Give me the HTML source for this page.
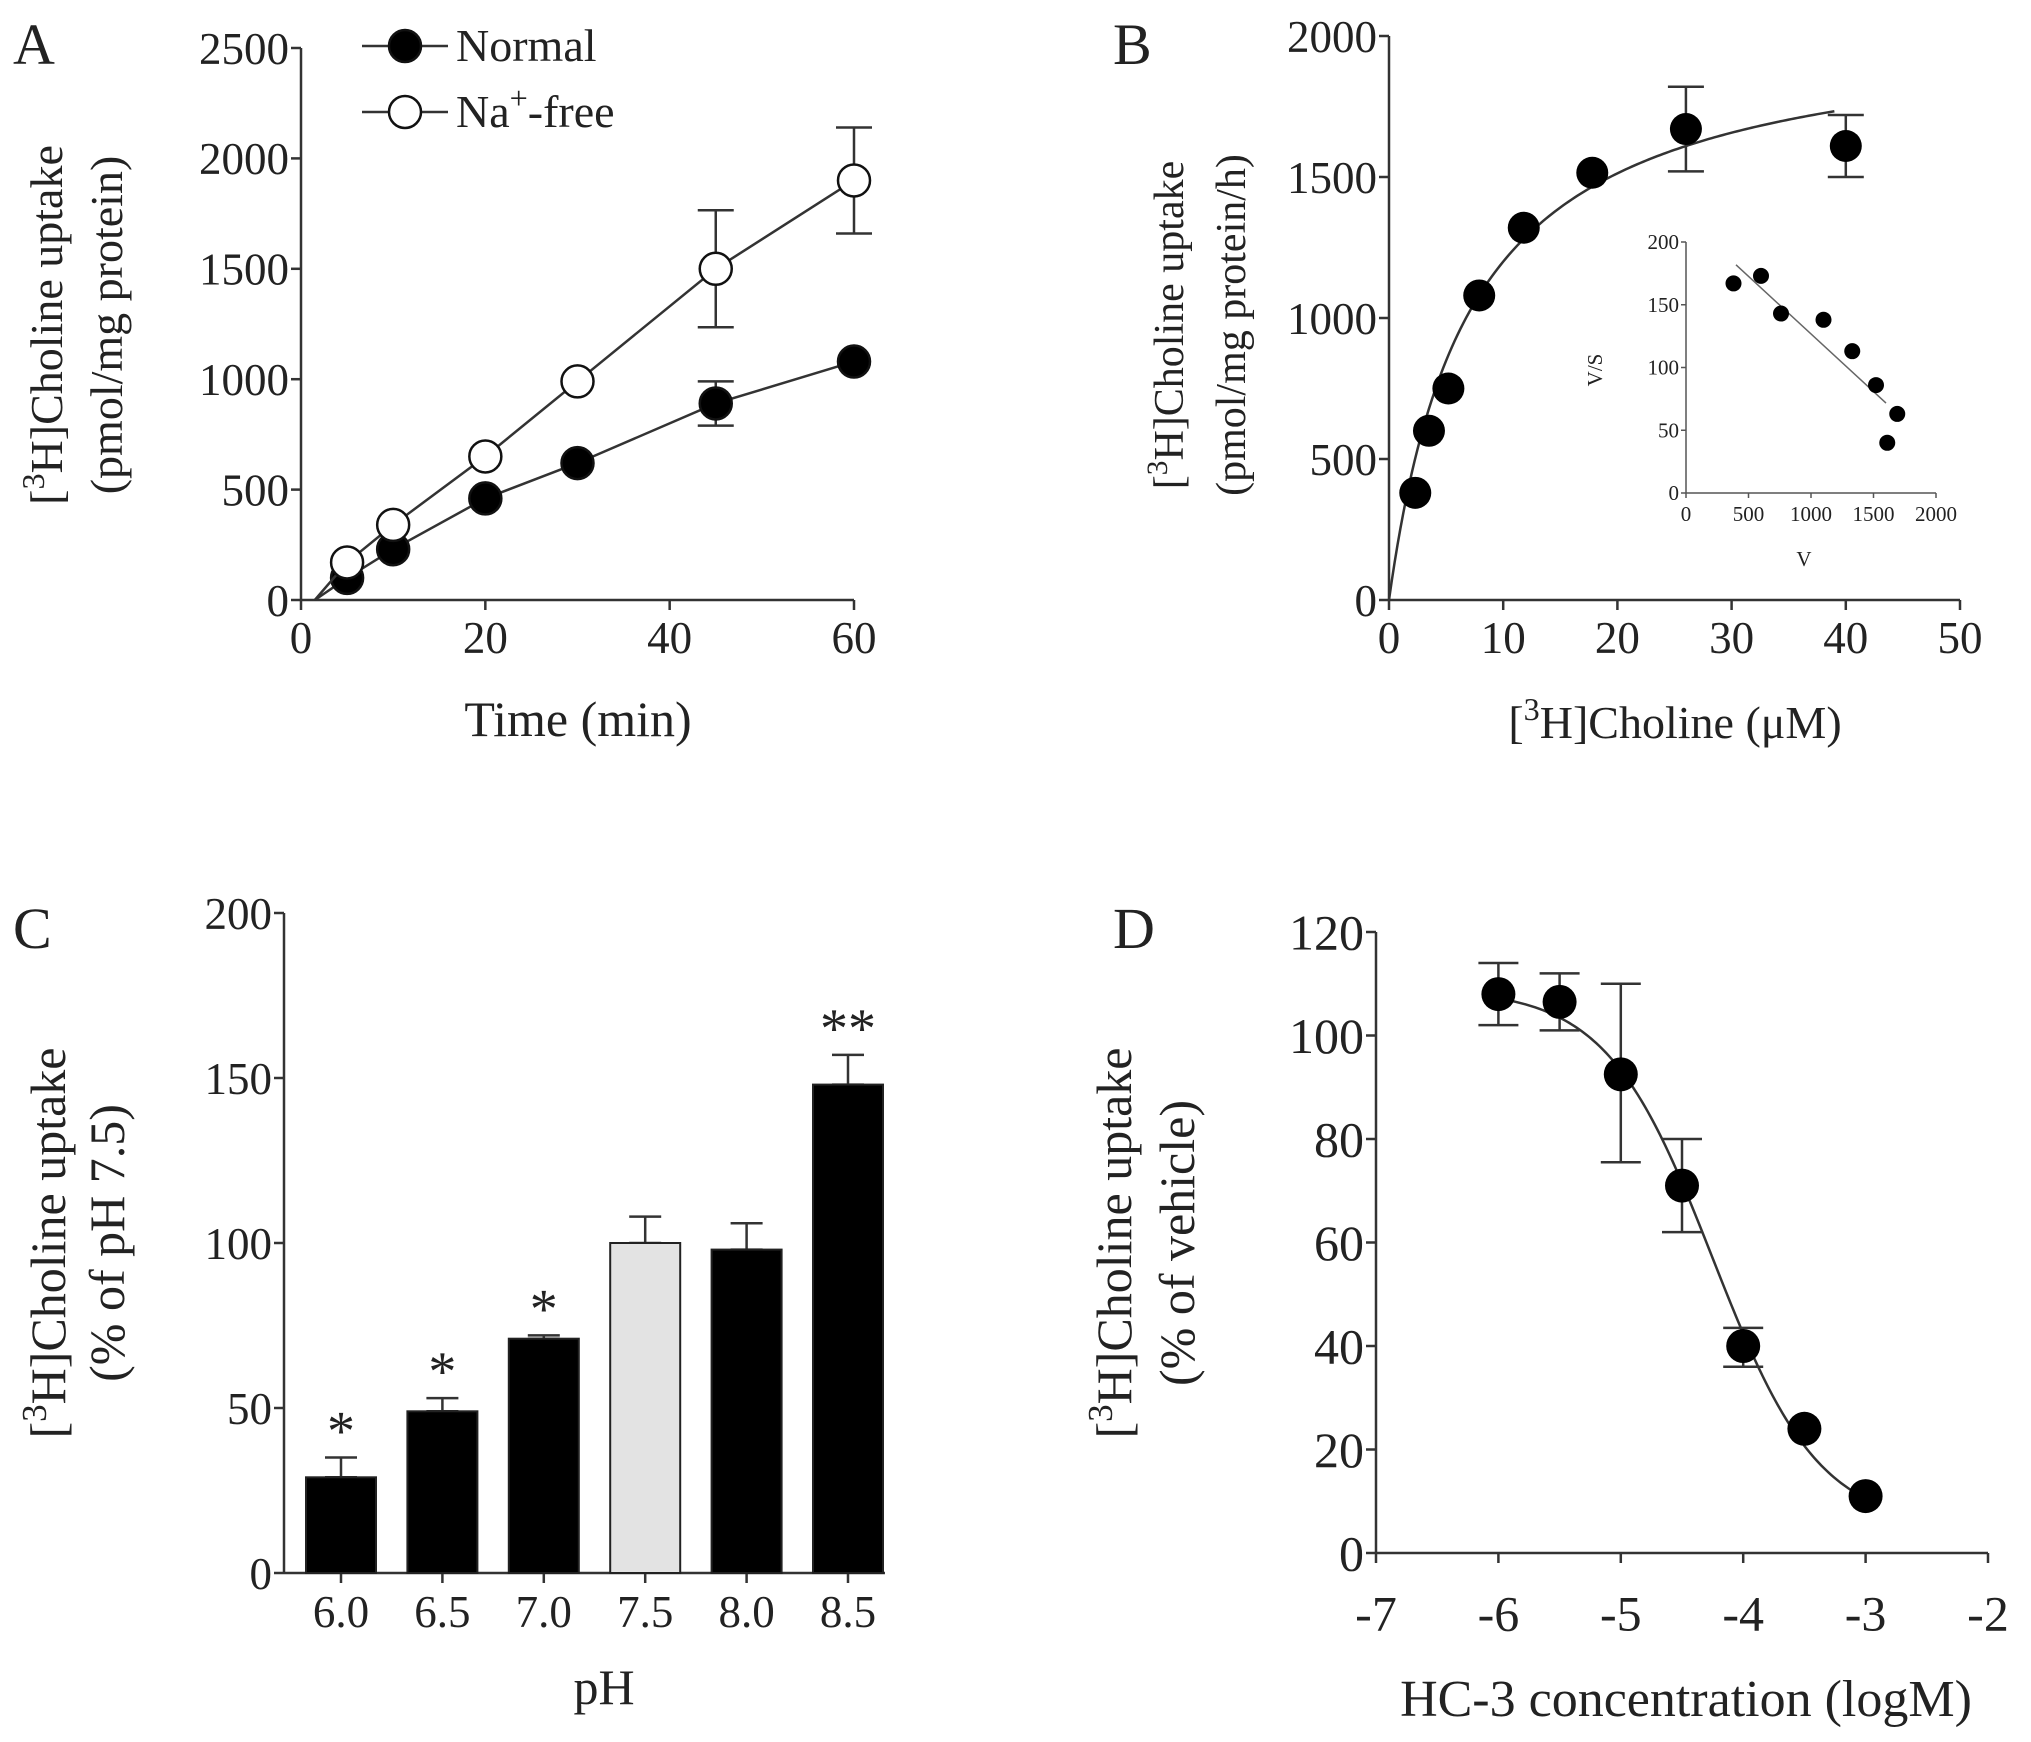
<!DOCTYPE html>
<html><head><meta charset="utf-8"><style>
html,body{margin:0;padding:0;background:#fff}
svg{display:block}
text{font-family:"Liberation Serif",serif;fill:#222}
</style></head><body>
<svg id="fig" width="2031" height="1742" viewBox="0 0 2031 1742" xmlns="http://www.w3.org/2000/svg"></svg>
<script>
// Panel A data
const aTimes=[5,10,20,30,45,60];
const aNormal=[100,230,460,620,890,1080];
const aNormalErr=[0,0,0,0,100,0];
const aNaFree=[170,340,650,990,1500,1900];
const aNaFreeErr=[0,0,0,0,265,240];
const aXTicks=[0,20,40,60];
const aYTicks=[0,500,1000,1500,2000,2500];
// Panel B data
const bConc=[2.3,3.5,5.2,7.9,11.8,17.8,26,40];
const bUptake=[380,600,750,1080,1320,1515,1670,1610];
const bErr=[0,0,0,0,0,0,150,110];
const bVmax=2047, bKm=7.06;
const bXTicks=[0,10,20,30,40,50];
const bYTicks=[0,500,1000,1500,2000];
// Inset data
const insV=[380,600,760,1100,1330,1520,1690,1610];
const insVS=[167,173,143,138,113,86,63,40];
const insXTicks=[0,500,1000,1500,2000];
const insYTicks=[0,50,100,150,200];
// Panel C data
const cPH=["6.0","6.5","7.0","7.5","8.0","8.5"];
const cVals=[29,49,71,100,98,148];
const cErr=[6,4,1,8,8,9];
const cSig=["*","*","*","","","**"];
const cYTicks=[0,50,100,150,200];
// Panel D data
const dLogC=[-6,-5.5,-5,-4.5,-4,-3.5,-3];
const dVals=[108,106.5,92.5,71,40,24,11];
const dErrHi=[6,5.5,17.5,9,3.5,0,0];
const dErrLo=[6,5.5,17,9,4,0,0];
const dTop=109,dBottom=5,dIC50=-4.25;
const dXTicks=[-7,-6,-5,-4,-3,-2];
const dYTicks=[0,20,40,60,80,100,120];

const svg=document.getElementById('fig');
const NS='http://www.w3.org/2000/svg';
const STROKE='#333';
function el(tag,attrs,parent){const e=document.createElementNS(NS,tag);for(const k in attrs)e.setAttribute(k,attrs[k]);(parent||svg).appendChild(e);return e;}
function txt(s,x,y,size,anchor,parent){const t=el('text',{x:x,y:y,'font-size':size,'text-anchor':anchor||'middle'},parent);t.textContent=s;return t;}
function lin(d0,d1,r0,r1){return v=>r0+(v-d0)*(r1-r0)/(d1-d0);}
function group(name){const g=el('g',{});return g;}

function axes(g,x0,x1,y0,y1,xs,ys,xt,yt,fs,tick,xoff){
  xoff=xoff||0;
  const ax=el('g',{},g);
  
  
  el('line',{x1:x0,y1:y0,x2:x0,y2:y1,stroke:STROKE,'stroke-width':2.5},ax);
  el('line',{x1:x0,y1:y0,x2:x1,y2:y0,stroke:STROKE,'stroke-width':2.5},ax);
  yt.forEach(v=>{const y=ys(v);el('line',{x1:x0-tick,y1:y,x2:x0,y2:y,stroke:STROKE,'stroke-width':2.5},ax);
    const t=txt(String(v),x0-tick-2,y+fs*0.35,fs,'end',ax);
    
    });
  xt.forEach(v=>{const x=xs(v);el('line',{x1:x,y1:y0,x2:x,y2:y0+tick,stroke:STROKE,'stroke-width':2.5},ax);
    const t=txt(String(v),x,y0+tick+fs*0.95+xoff,fs,'middle',ax);
    
    });
}
function ytitle(g,lines,cxs,cy,fs){
  lines.forEach((l,i)=>{const t=el('text',{x:0,y:0,'font-size':fs,'text-anchor':'middle',transform:`translate(${cxs[i]},${cy}) rotate(-90)`},g);
    
    
    t.innerHTML=l;});
}
function errbar(g,x,yLo,yHi,cap){
  el('line',{x1:x,y1:yLo,x2:x,y2:yHi,stroke:STROKE,'stroke-width':2.5},g);
  el('line',{x1:x-cap,y1:yHi,x2:x+cap,y2:yHi,stroke:STROKE,'stroke-width':2.5},g);
  el('line',{x1:x-cap,y1:yLo,x2:x+cap,y2:yLo,stroke:STROKE,'stroke-width':2.5},g);
}
const SUP3='[<tspan baseline-shift="super" font-size="70%">3</tspan>H]';

// ---------- Panel A ----------
(function(){
  const g=group('panel-a');
  const xs=lin(0,60,301,854), ys=lin(0,2500,600,48);
  axes(g,301,854,600,48,xs,ys,aXTicks,aYTicks,45,10);
  txt('A',13,64,58,'start',g);
  const xt=txt('Time (min)',578,736,50,'middle',g);
  
  ytitle(g,[SUP3+'Choline uptake','(pmol/mg protein)'],[62,122],325,46);
  [[aNormal,aNormalErr,'#000','series-normal'],[aNaFree,aNaFreeErr,'#fff','series-na-free']].forEach(([vals,errs,fill,name])=>{
    const s=el('g',{},g);
    
    
    let pts=`${xs(1.5)},${ys(0)} `+aTimes.map((t,i)=>`${xs(t)},${ys(vals[i])}`).join(' ');
    el('polyline',{points:pts,fill:'none',stroke:STROKE,'stroke-width':2.5},s);
    aTimes.forEach((t,i)=>{ if(errs[i]>0) errbar(s,xs(t),ys(vals[i]-errs[i]),ys(vals[i]+errs[i]),18);});
    aTimes.forEach((t,i)=>{const c=el('circle',{cx:xs(t),cy:ys(vals[i]),r:16,fill:fill,stroke:'#111','stroke-width':2.5},s);
      
      });
  });
  const lg=el('g',{},g);
  
  
  [['#000','Normal',46],['#fff','Na<tspan baseline-shift="super" font-size="70%">+</tspan>-free',112]].forEach(([f,l,y])=>{
    const e=el('g',{},lg);
    
    
    el('line',{x1:362,y1:y,x2:448,y2:y,stroke:STROKE,'stroke-width':2.5},e);
    el('circle',{cx:405,cy:y,r:16,fill:f,stroke:'#111','stroke-width':2.5},e);
    const t=el('text',{x:456,y:y+15,'font-size':46,'text-anchor':'start'},e);t.innerHTML=l;
  });
})();

// ---------- Panel B ----------
(function(){
  const g=group('panel-b');
  const xs=lin(0,50,1389,1960), ys=lin(0,2000,600,36);
  axes(g,1389,1960,600,36,xs,ys,bXTicks,bYTicks,45,10);
  txt('B',1113,64,58,'start',g);
  const xt=el('text',{x:1675,y:738,'font-size':46,'text-anchor':'middle'},g);
  xt.innerHTML=SUP3+'Choline (μM)';
  
  ytitle(g,[SUP3+'Choline uptake','(pmol/mg protein/h)'],[1183,1245],325,42);
  let pts=[];for(let s=0;s<=39;s+=0.25)pts.push(`${xs(s)},${ys(bVmax*s/(bKm+s))}`);
  const fit=el('polyline',{points:pts.join(' '),fill:'none',stroke:STROKE,'stroke-width':2.5},g);
  
  
  bConc.forEach((c,i)=>{ if(bErr[i]>0) errbar(g,xs(c),ys(bUptake[i]-bErr[i]),ys(bUptake[i]+bErr[i]),18);});
  bConc.forEach((c,i)=>{const p=el('circle',{cx:xs(c),cy:ys(bUptake[i]),r:16,fill:'#000'},g);
    
    });
  const ig=el('g',{},g);
  
  
  const ix=lin(0,2000,1686,1936), iy=lin(0,200,493,242);
  el('line',{x1:1686,y1:493,x2:1686,y2:242,stroke:'#555','stroke-width':1.5},ig);
  el('line',{x1:1686,y1:493,x2:1936,y2:493,stroke:'#555','stroke-width':1.5},ig);
  insYTicks.forEach(v=>{el('line',{x1:1681,y1:iy(v),x2:1686,y2:iy(v),stroke:'#555','stroke-width':1.5},ig);
    const t=txt(String(v),1679,iy(v)+7,21,'end',ig);t.setAttribute('fill','#444');});
  insXTicks.forEach(v=>{el('line',{x1:ix(v),y1:493,x2:ix(v),y2:498,stroke:'#555','stroke-width':1.5},ig);
    const t=txt(String(v),ix(v),521,21,'middle',ig);t.setAttribute('fill','#444');});
  txt('V',1804,566,21,'middle',ig);
  const vs=el('text',{x:0,y:0,'font-size':21,'text-anchor':'middle',transform:'translate(1602,370) rotate(-90)'},ig);vs.textContent='V/S';
  const n=insV.length;let mx=0,my=0;insV.forEach((v,i)=>{mx+=v;my+=insVS[i];});mx/=n;my/=n;
  let sxy=0,sxx=0;insV.forEach((v,i)=>{sxy+=(v-mx)*(insVS[i]-my);sxx+=(v-mx)*(v-mx);});
  const sl=sxy/sxx, b0=my-sl*mx;
  const rl=el('line',{x1:ix(400),y1:iy(b0+sl*400),x2:ix(1600),y2:iy(b0+sl*1600),stroke:'#666','stroke-width':1.5},ig);
  
  
  insV.forEach((v,i)=>{const p=el('circle',{cx:ix(v),cy:iy(insVS[i]),r:8,fill:'#000'},ig);
    
    });
})();

// ---------- Panel C ----------
(function(){
  const g=group('panel-c');
  const ys=lin(0,200,1573,913);
  const x0=284, bw=70, step=101.4, first=341;
  el('line',{x1:x0,y1:1573,x2:x0,y2:913,stroke:STROKE,'stroke-width':2.5},g);
  el('line',{x1:x0,y1:1573,x2:885,y2:1573,stroke:STROKE,'stroke-width':2.5},g);
  cYTicks.forEach(v=>{el('line',{x1:x0-10,y1:ys(v),x2:x0,y2:ys(v),stroke:STROKE,'stroke-width':2.5},g);
    const t=txt(String(v),x0-12,ys(v)+16,45,'end',g);
    
    });
  txt('C',13,948,58,'start',g);
  const xt=txt('pH',604,1704,50,'middle',g);
  
  ytitle(g,[SUP3+'Choline uptake','(% of pH 7.5)'],[65,124],1243,50);
  cPH.forEach((p,i)=>{
    const cx=first+i*step;
    el('line',{x1:cx,y1:1573,x2:cx,y2:1583,stroke:STROKE,'stroke-width':2.5},g);
    const tl=txt(p,cx,1627,45,'middle',g);
    
    
    errbar(g,cx,ys(cVals[i]),ys(cVals[i]+cErr[i]),16);
    const r=el('rect',{x:cx-bw/2,y:ys(cVals[i]),width:bw,height:1573-ys(cVals[i]),fill:p==='7.5'?'#e3e3e3':'#000',stroke:'#222','stroke-width':2},g);
    
    
    if(cSig[i]){const s=txt(cSig[i],cx,ys(cVals[i]+cErr[i])-8,56,'middle',g);
      
      }
  });
})();

// ---------- Panel D ----------
(function(){
  const g=group('panel-d');
  const xs=lin(-7,-2,1376,1988), ys=lin(0,120,1553,932);
  axes(g,1376,1988,1553,932,xs,ys,dXTicks,dYTicks,50,10,20);
  txt('D',1113,948,58,'start',g);
  const xt=txt('HC-3 concentration (logM)',1686,1716,52,'middle',g);
  
  ytitle(g,[SUP3+'Choline uptake','(% of vehicle)'],[1131,1194],1243,50);
  let pts=[];for(let x=-6;x<=-3;x+=0.02)pts.push(`${xs(x)},${ys(dBottom+(dTop-dBottom)/(1+Math.pow(10,x-dIC50)))}`);
  const fit=el('polyline',{points:pts.join(' '),fill:'none',stroke:STROKE,'stroke-width':2.5},g);
  
  
  dLogC.forEach((c,i)=>{ if(dErrHi[i]>0) errbar(g,xs(c),ys(dVals[i]-dErrLo[i]),ys(dVals[i]+dErrHi[i]),20);});
  dLogC.forEach((c,i)=>{const p=el('circle',{cx:xs(c),cy:ys(dVals[i]),r:17,fill:'#000'},g);
    
    });
})();
</script>
</body></html>
